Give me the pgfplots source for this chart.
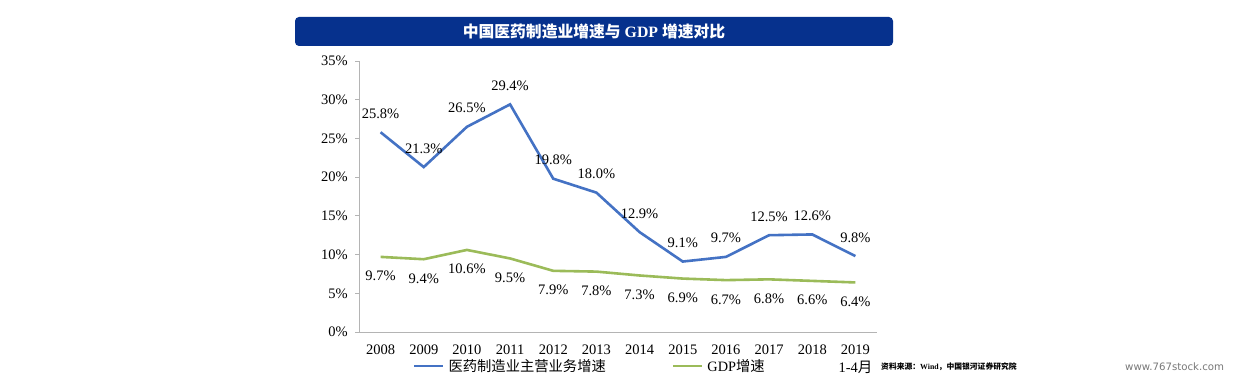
\documentclass[border=0pt]{standalone}
\usepackage{fontspec}
\setmainfont{Liberation Serif}
\newfontfamily\cjk{Noto Sans CJK SC}
\newfontfamily\wm{DejaVu Sans}
\usepackage{pgfplots}
\pgfplotsset{compat=1.18}
\definecolor{titleblue}{RGB}{6,49,141}
\definecolor{lblue}{RGB}{68,114,196}
\definecolor{lgreen}{RGB}{155,187,89}
\definecolor{axgray}{RGB}{180,180,180}
\definecolor{wmgray}{RGB}{120,120,120}
\begin{document}
\begin{tikzpicture}
\path[use as bounding box] (0bp,0bp) rectangle (1234bp,380bp);
\fill[white] (0bp,0bp) rectangle (1234bp,380bp);
\fill[titleblue, rounded corners=4bp] (295bp,334bp) rectangle (893bp,363bp);
\node[text=white, inner sep=0pt, font=\fontsize{15.8bp}{18bp}\selectfont\bfseries] at (594bp,348.5bp) {{\cjk 中国医药制造业增速与} GDP {\cjk 增速对比}};
\begin{axis}[
  at={(359bp,48bp)}, anchor=south west,
  scale only axis, width=518bp, height=271bp,
  xmin=-0.5, xmax=11.5, ymin=0, ymax=35,
  clip=false,
  axis x line=bottom, axis y line=left,
  axis line style={draw=axgray, line width=0.8bp, -},
  xtick={0,...,11},
  xticklabels={2008,2009,2010,2011,2012,2013,2014,2015,2016,2017,2018,{2019\\1-4{\cjk 月}}},
  x tick style={draw=none},
  ytick={0,5,...,35},
  yticklabels={0\%,5\%,10\%,15\%,20\%,25\%,30\%,35\%},
  y tick style={draw=axgray, line width=0.8bp},
  tick align=outside, major tick length=4bp,
  tick label style={font=\fontsize{14.5bp}{18bp}\selectfont},
  xticklabel style={anchor=north, inner sep=0pt, align=center, yshift=-9bp},
  yticklabel style={anchor=east, inner sep=0pt, xshift=-7bp},
  point meta=explicit symbolic,
  nodes near coords,
  legend columns=2,
  legend cell align=left,
  legend style={draw=none, fill=none, inner sep=0pt, outer sep=0pt,
    at={(axis description cs:0.1042,-0.126)}, anchor=west,
    font=\fontsize{14.3bp}{17bp}\selectfont,
    nodes={inner sep=0pt},
    /tikz/every odd column/.append style={column sep=4bp},
    /tikz/every even column/.append style={column sep=66bp}},
  legend image code/.code={\draw[#1] (0bp,0bp) -- (29bp,0bp);},
]
\addplot[color=lblue, line width=2.6bp, mark=none,
  nodes near coords style={anchor=base, yshift=14bp, inner sep=0pt, text=black, font=\fontsize{14.5bp}{17bp}\selectfont}]
  coordinates {
  (0,25.8) [25.8\%]
  (1,21.3) [21.3\%]
  (2,26.5) [26.5\%]
  (3,29.4) [29.4\%]
  (4,19.8) [19.8\%]
  (5,18.0) [18.0\%]
  (6,12.9) [12.9\%]
  (7,9.1) [9.1\%]
  (8,9.7) [9.7\%]
  (9,12.5) [12.5\%]
  (10,12.6) [12.6\%]
  (11,9.8) [9.8\%]
  };
\addlegendentry{{\cjk 医药制造业主营业务增速}}
\addplot[color=lgreen, line width=2.6bp, mark=none,
  nodes near coords style={anchor=base, yshift=-24bp, inner sep=0pt, text=black, font=\fontsize{14.5bp}{17bp}\selectfont}]
  coordinates {
  (0,9.7) [9.7\%]
  (1,9.4) [9.4\%]
  (2,10.6) [10.6\%]
  (3,9.5) [9.5\%]
  (4,7.9) [7.9\%]
  (5,7.8) [7.8\%]
  (6,7.3) [7.3\%]
  (7,6.9) [6.9\%]
  (8,6.7) [6.7\%]
  (9,6.8) [6.8\%]
  (10,6.6) [6.6\%]
  (11,6.4) [6.4\%]
  };
\addlegendentry{GDP{\cjk 增速}}
\end{axis}
\node[anchor=west, inner sep=0pt, font=\fontsize{7.8bp}{9bp}\selectfont\bfseries] at (881bp,13bp) {{\cjk 资料来源：}Wind{\cjk ，中国银河证券研究院}};
\node[anchor=west, inner sep=0pt, text=wmgray, font=\wm\fontsize{10.2bp}{12bp}\selectfont] at (1125bp,13bp) {www.767stock.com};
\end{tikzpicture}
\end{document}
